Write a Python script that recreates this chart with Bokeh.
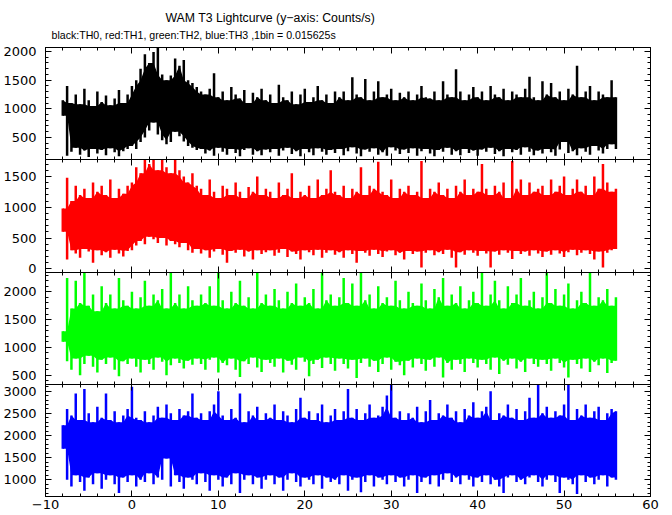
import numpy as np
from bokeh.plotting import figure
from bokeh.layouts import column
from bokeh.models import (Range1d, LinearAxis, SingleIntervalTicker, CustomJSTickFormatter,
                          CustomLabelingPolicy)
from bokeh.core.properties import value
from bokeh.embed import file_html
from bokeh.resources import INLINE

# ---- data: per-0.5 s envelope (max / min counts/s) ----
t_start = -8.0
t_step = 0.5

th0_hi = [1150, 1400, 1100, 1250, 1080, 1350, 1150, 1050, 1300, 1120, 1230, 1060, 1180, 1330, 1100, 1250,
          1400, 1500, 1700, 1950, 1800, 1990, 2070, 1600, 1500, 1580, 1880, 1750, 1850, 1500, 1450, 1380,
          1300, 1250, 1350, 1620, 1200, 1300, 1150, 1380, 1250, 1180, 1330, 1100, 1280, 1200, 1350, 1150,
          1250, 1100, 1420, 1200, 1150, 1300, 1080, 1250, 1350, 1120, 1200, 1400, 1150, 1250, 1100, 1300,
          1200, 1300, 1150, 1550, 1250, 1200, 1520, 1150, 1300, 1480, 1200, 1250, 1350, 1150, 1280, 1200,
          1300, 1150, 1250, 1400, 1200, 1180, 1300, 1150, 1480, 1250, 1200, 1690, 1300, 1150, 1250, 1380,
          1200, 1300, 1150, 1400, 1250, 1200, 1350, 1150, 1300, 1250, 1200, 1350, 1560, 1200, 1150, 1480,
          1250, 1450, 1200, 1300, 1150, 1350, 1250, 1750, 1200, 1300, 1400, 1150, 1300, 1250, 1200, 1500,
          1200]
th0_lo = [880, 180, 250, 320, 200, 270, 160, 300, 220, 280, 190, 310, 240, 170, 260, 300,
          350, 300, 420, 500, 620, 760, 550, 450, 380, 420, 600, 520, 430, 350, 320, 280,
          300, 220, 270, 180, 320, 250, 200, 300, 230, 170, 280, 310, 200, 260, 190, 290,
          240, 300, 180, 270, 320, 210, 260, 170, 300, 240, 190, 310, 250, 200, 280, 230,
          300, 190, 260, 330, 220, 170, 290, 250, 310, 200, 240, 180, 330, 270, 210, 290,
          230, 310, 180, 260, 300, 220, 170, 280, 250, 320, 200, 260, 190, 300, 230, 270,
          180, 290, 250, 320, 210, 260, 170, 300, 240, 280, 200, 330, 250, 190, 270, 220,
          300, 240, 180, 290, 420, 230, 260, 190, 310, 250, 200, 350, 270, 220, 300, 380,
          300]

th1_hi = [980, 1480, 1100, 1350, 1200, 1300, 1150, 1400, 1250, 1350, 1200, 1450, 1150, 1300, 1220, 1350,
          1400, 1650, 1550, 1775, 1700, 1775, 1600, 1775, 1650, 1550, 1775, 1600, 1500, 1400, 1550, 1350,
          1300, 1200, 1450, 1250, 1150, 1350, 1300, 1200, 1400, 1250, 1150, 1330, 1250, 1500, 1200, 1300,
          1250, 1150, 1400, 1200, 1300, 1550, 1150, 1250, 1200, 1350, 1150, 1450, 1200, 1300, 1600, 1250,
          1200, 1350, 1150, 1300, 1250, 1650, 1200, 1350, 1300, 1740, 1250, 1200, 1450, 1150, 1300, 1250,
          1350, 1200, 1250, 1750, 1150, 1300, 1250, 1400, 1200, 1300, 1150, 1350, 1250, 1450, 1200, 1300,
          1250, 1700, 1300, 1200, 1350, 1250, 1400, 1150, 1750, 1300, 1450, 1200, 1400, 1250, 1300, 1350,
          1200, 1450, 1250, 1350, 1500, 1200, 1300, 1450, 1250, 1350, 1200, 1500, 1300, 1700, 1400, 1250,
          1300]
th1_lo = [600, 150, 300, 250, 180, 320, 280, 100, 300, 220, 270, 180, 310, 250, 200, 290,
          300, 380, 450, 400, 520, 480, 420, 500, 380, 450, 400, 350, 420, 300, 260, 320,
          250, 300, 180, 280, 320, 230, 100, 290, 260, 310, 200, 280, 150, 300, 240, 270,
          300, 210, 260, 320, 190, 280, 240, 150, 300, 270, 220, 310, 180, 260, 300, 230,
          270, 180, 300, 240, 100, 290, 260, 210, 310, 240, 190, 280, 300, 220, 260, 150,
          290, 240, 280, 20, 260, 300, 220, 270, 240, 310, 180, 20, 270, 230, 300, 260,
          210, 290, 250, 20, 280, 230, 300, 260, 160, 290, 240, 280, 210, 300, 250, 190,
          280, 230, 300, 250, 190, 270, 310, 220, 260, 300, 240, 150, 280, 20, 260, 300,
          320]

th2_hi = [1290, 2250, 1700, 2200, 1800, 2347, 1750, 1950, 1650, 2100, 1800, 1950, 1700, 2250, 1850, 1750,
          2000, 1700, 1900, 2200, 1750, 1950, 1850, 2050, 1700, 2347, 1800, 1950, 1700, 2100, 1850, 1750,
          1950, 1800, 2100, 1750, 2347, 1850, 1700, 2000, 1800, 2200, 1750, 1900, 1700, 2347, 1800, 1950,
          1750, 2050, 1850, 1700, 2000, 1800, 2150, 1750, 1900, 1800, 2050, 1700, 2347, 1850, 1950, 1750,
          1900, 2250, 1800, 2150, 1750, 2347, 1850, 1950, 1700, 2100, 1800, 1900, 1750, 2200, 1850, 1700,
          2000, 1800, 1750, 2150, 1850, 1700, 2050, 1900, 2250, 1750, 1950, 1800, 2100, 1700, 1850, 2000,
          1800, 2347, 1750, 1950, 2200, 1850, 1700, 2100, 1800, 1950, 2250, 1750, 1850, 2000, 1700, 1900,
          2347, 1800, 2050, 1750, 1950, 2150, 1700, 1850, 2000, 1800, 2347, 1750, 1900, 1850, 2050, 1750,
          1900]
th2_lo = [1100, 750, 600, 800, 500, 700, 850, 650, 550, 780, 700, 820, 600, 480, 750, 700,
          800, 650, 550, 780, 700, 600, 820, 740, 500, 680, 800, 720, 620, 760, 690, 800,
          700, 600, 780, 820, 550, 720, 680, 800, 600, 470, 750, 700, 820, 640, 560, 780,
          720, 650, 800, 550, 760, 690, 600, 820, 740, 480, 700, 780, 630, 820, 700, 580,
          800, 700, 620, 780, 450, 720, 800, 650, 760, 560, 700, 820, 600, 740, 680, 500,
          760, 640, 800, 700, 580, 780, 650, 820, 460, 720, 600, 780, 700, 560, 800, 720,
          640, 780, 700, 600, 820, 520, 760, 690, 800, 620, 740, 560, 800, 700, 650, 780,
          700, 580, 800, 720, 640, 460, 780, 700, 620, 800, 560, 740, 680, 800, 540, 720,
          760]

th3_hi = [2230, 2600, 2450, 2950, 2350, 3050, 2500, 2300, 2650, 2400, 2950, 2350, 2550, 2300, 2450, 2600,
          3100, 2400, 2350, 2550, 2300, 2450, 2650, 2400, 2700, 2500, 2350, 2600, 2450, 2550, 2950, 2400,
          2500, 2350, 2550, 2700, 3000, 2450, 2350, 2600, 2400, 2950, 2300, 2550, 2450, 2650, 2350, 2500,
          2400, 2700, 2350, 2550, 2450, 2300, 2600, 2850, 2400, 2550, 2350, 2500, 2700, 2300, 2450, 2600,
          2350, 2550, 3050, 2400, 2600, 2350, 2500, 2700, 2400, 2450, 2650, 2900, 3150, 2400, 2550, 2350,
          2500, 2400, 2650, 2300, 2550, 2800, 2350, 2500, 2450, 2700, 2400, 2550, 2300, 2600, 2450, 2750,
          2400, 2550, 2650, 3000, 2350, 2500, 2450, 2700, 2400, 2600, 2350, 2550, 2850, 2400, 3150, 2500,
          2650, 2400, 2550, 2450, 2700, 3150, 2350, 2600, 2450, 2700, 2400, 2550, 2650, 2350, 2500, 2600,
          2550]
th3_lo = [1700, 1000, 850, 1100, 950, 750, 1050, 900, 1150, 800, 1000, 1100, 900, 700, 1050, 950,
          1100, 850, 1000, 950, 1150, 900, 1050, 1000, 1480, 850, 1100, 950, 800, 1050, 1000, 900,
          1150, 950, 750, 1100, 1000, 850, 1050, 900, 1150, 700, 1000, 1100, 900, 1050, 800, 1000,
          1100, 900, 1050, 750, 1000, 1150, 950, 850, 1050, 1000, 900, 1100, 800, 1050, 950, 1000,
          900, 1100, 750, 1000, 1050, 720, 950, 1100, 850, 1050, 1000, 900, 1100, 950, 1050, 850,
          1000, 1100, 700, 950, 1050, 900, 1100, 850, 1000, 1150, 950, 1050, 900, 1100, 1000, 850,
          1050, 950, 1100, 900, 1000, 850, 700, 1050, 1100, 950, 1000, 900, 1050, 1100, 950, 850,
          1000, 1100, 950, 700, 1050, 1000, 900, 680, 1100, 950, 1050, 900, 1000, 1100, 850, 1050,
          1000]

panel_ranges = [(115, 2070), (-60, 1775), (333, 2347), (623, 3151)]
colors = ["#000000", "#ff0000", "#00ff00", "#0000ff"]

title_text = "WAM T3 Lightcurve (y\u2212axis: Counts/s)"
subtitle_text = "black:TH0, red:TH1, green:TH2, blue:TH3 ,1bin = 0.015625s"

# ---- layout constants ----
W = 668
FRAME_HS = [112, 113, 112, 112]
TOP = 47
EXT = 9
BOTTOM = 18
LEFT = 45
RIGHT = 18
TICK_FONT = "DejaVu Sans"
TITLE_FONT = "Liberation Sans"

time = t_start + t_step * np.arange(len(th0_hi))


def body(vals, fn):
    a = np.asarray(vals, dtype=float)
    padded = np.concatenate([[a[0]], a, [a[-1]]])
    return fn(np.vstack([padded[:-2], padded[1:-1], padded[2:]]), axis=0)


minus_fmt = CustomJSTickFormatter(code="return tick < 0 ? '\\u2212' + Math.abs(tick) : String(tick);")


def style_axis(ax, labels):
    ax.axis_line_color = "black"
    ax.major_tick_line_color = "black"
    ax.minor_tick_line_color = "black"
    ax.major_tick_in = 6
    ax.major_tick_out = 0
    ax.minor_tick_in = 3
    ax.minor_tick_out = 0
    if labels:
        ax.major_label_text_font = TICK_FONT
        ax.major_label_text_font_size = "13px"
        ax.major_label_text_color = "black"
    else:
        ax.major_label_policy = CustomLabelingPolicy(code="return [];")
        ax.major_label_text_font_size = "0px"
        ax.major_label_standoff = 0


x_range = Range1d(-10, 60)

# header with the two title lines (y measured in pixels from the top of the header)
header = figure(width=W, height=TOP, x_range=x_range, y_range=Range1d(TOP, 0), title=None,
                output_backend="svg", toolbar_location=None,
                x_axis_type=None, y_axis_type=None,
                min_border_left=LEFT, min_border_right=RIGHT, min_border_top=0, min_border_bottom=0)
header.outline_line_color = None
header.background_fill_color = None
header.border_fill_color = None
header.text(x=[16], y=[17.0], text=[title_text], text_align="center", text_baseline="alphabetic",
            text_font=value(TITLE_FONT), text_font_size="12.3px", text_color="black")
header.text(x=[-9.3], y=[34.5], text=[subtitle_text], text_align="left", text_baseline="alphabetic",
            text_font=value(TITLE_FONT), text_font_size="10.6px", text_color="black")

figs = [header]
series = [(th0_lo, th0_hi), (th1_lo, th1_hi), (th2_lo, th2_hi), (th3_lo, th3_hi)]
for i, ((lo, hi), yr, col, fh) in enumerate(zip(series, panel_ranges, colors, FRAME_HS)):
    bt = EXT
    bb = BOTTOM if i == 3 else EXT
    p = figure(width=W, height=fh + bt + bb, x_range=x_range, y_range=Range1d(*yr), title=None,
               output_backend="svg", toolbar_location=None,
               x_axis_type=None, y_axis_type=None,
               min_border_left=LEFT, min_border_right=RIGHT,
               min_border_top=bt, min_border_bottom=bb,
               margin=(-EXT if i == 0 else -2 * EXT, 0, 0, 0))
    p.outline_line_color = "black"
    p.background_fill_color = "white"
    p.border_fill_color = None

    yl = LinearAxis(ticker=SingleIntervalTicker(interval=500, num_minor_ticks=5))
    style_axis(yl, True)
    yl.major_label_standoff = 9
    p.add_layout(yl, "left")
    yr_ax = LinearAxis(ticker=SingleIntervalTicker(interval=500, num_minor_ticks=5))
    style_axis(yr_ax, False)
    p.add_layout(yr_ax, "right")

    xb = LinearAxis(ticker=SingleIntervalTicker(interval=10, num_minor_ticks=5), formatter=minus_fmt)
    style_axis(xb, i == 3)
    if i == 3:
        xb.major_label_standoff = 3
    p.add_layout(xb, "below")
    xa = LinearAxis(ticker=SingleIntervalTicker(interval=10, num_minor_ticks=5))
    style_axis(xa, False)
    p.add_layout(xa, "above")

    # solid core of the band plus one thin stroke per sample for the spiky fringe
    p.varea(x=time, y1=body(lo, np.max), y2=body(hi, np.min), fill_color=col, fill_alpha=1.0)
    p.segment(x0=time, y0=lo, x1=time, y1=hi, line_color=col, line_width=2.5)
    figs.append(p)

layout = column(*figs, spacing=0)
open("out.html", "w").write(file_html(layout, INLINE))
